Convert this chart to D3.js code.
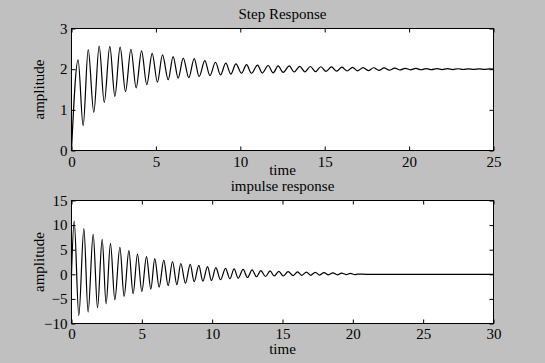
<!DOCTYPE html>
<html>
<head>
<meta charset="utf-8">
<script src="https://cdn.jsdelivr.net/npm/d3@7"></script>
<style>
  html, body { margin: 0; padding: 0; background: #c0c0c0; }
  svg { display: block; }
  text { font-family: "Liberation Serif", "Times New Roman", serif; fill: #000; }
</style>
</head>
<body>
<svg id="chart" width="545" height="363"></svg>
<script>
// ---- Data (local extrema of each response) ----
const stepTimes = [0, 0.39, 0.69, 0.99, 1.32, 1.64, 1.94, 2.27, 2.57, 2.88, 3.2, 3.52, 3.83, 4.15, 4.46, 4.78, 5.09, 5.39, 5.73, 6.02, 6.32, 6.62, 6.95, 7.27, 7.56, 7.9, 8.2, 8.53, 8.83, 9.14, 9.44, 9.74, 10.07, 10.37, 10.66, 11.02, 11.3, 11.65, 11.95, 12.24, 12.54, 12.9, 13.19, 13.52, 13.83, 14.15, 14.46, 14.77, 15.08, 15.4, 15.71, 16.02, 16.33, 16.65, 16.96, 17.27, 17.58, 17.9, 18.21, 18.52, 18.83, 19.15, 19.46, 19.77, 20.08, 20.4, 20.71, 21.02, 21.33, 21.65, 21.96, 22.27, 22.58, 22.9, 23.21, 23.52, 23.83, 24.15, 24.46, 24.77, 25];
const stepValues = [0, 2.23, 0.61, 2.48, 0.94, 2.57, 1.18, 2.56, 1.33, 2.54, 1.45, 2.49, 1.54, 2.45, 1.62, 2.39, 1.68, 2.35, 1.74, 2.31, 1.78, 2.27, 1.79, 2.26, 1.82, 2.21, 1.84, 2.17, 1.86, 2.15, 1.88, 2.13, 1.9, 2.11, 1.9, 2.1, 1.905, 2.09, 1.91, 2.08, 1.92, 2.08, 1.93, 2.07, 1.935, 2.065, 1.94, 2.06, 1.945, 2.055, 1.95, 2.05, 1.955, 2.045, 1.96, 2.04, 1.965, 2.035, 1.97, 2.03, 1.975, 2.025, 1.98, 2.02, 1.985, 2.018, 1.986, 2.015, 1.988, 2.013, 1.99, 2.012, 1.991, 2.01, 1.992, 2.009, 1.993, 2.008, 1.994, 2.007, 2.0];

const impulseTimes = [0, 0.19, 0.52, 0.88, 1.18, 1.54, 1.85, 2.18, 2.46, 2.77, 3.08, 3.44, 3.74, 4.08, 4.38, 4.69, 5.0, 5.33, 5.64, 5.92, 6.23, 6.56, 6.87, 7.18, 7.49, 7.77, 8.1, 8.44, 8.72, 9.05, 9.34, 9.67, 9.95, 10.26, 10.59, 10.95, 11.26, 11.56, 11.85, 12.2, 12.51, 12.84, 13.15, 13.46, 13.79, 14.12, 14.41, 14.74, 15.05, 15.4, 15.76, 16.07, 16.38, 16.7, 17.0, 17.33, 17.64, 17.95, 18.27, 18.58, 18.9, 19.2, 19.52, 19.83, 20.15, 20.35, 21, 30];
const impulseValues = [0, 10.8, -8.4, 9.3, -7.7, 8.1, -6.8, 7.1, -6.0, 6.3, -5.2, 5.5, -4.5, 4.8, -3.95, 4.1, -3.5, 3.6, -3.0, 3.2, -2.6, 2.9, -2.3, 2.6, -2.1, 2.2, -1.8, 2.0, -1.5, 1.8, -1.4, 1.55, -1.25, 1.35, -1.1, 1.2, -0.9, 1.1, -0.8, 1.0, -0.65, 0.9, -0.5, 0.75, -0.45, 0.7, -0.35, 0.6, -0.35, 0.55, -0.25, 0.5, -0.2, 0.45, -0.2, 0.4, -0.15, 0.35, -0.12, 0.3, -0.1, 0.25, -0.06, 0.2, -0.05, 0.05, 0, 0];

const stepXTicks = [0, 5, 10, 15, 20, 25];
const stepYTicks = [0, 1, 2, 3];
const impulseXTicks = [0, 5, 10, 15, 20, 25, 30];
const impulseYTicks = [-10, -5, 0, 5, 10, 15];

const svg = d3.select("#chart");
const FONT = 15;

function panel(cfg) {
  const { left, right, top, bottom, xDomain, yDomain, xTicks, yTicks, times, values, title, titleY, xlabelY, xPad } = cfg;
  const x = d3.scaleLinear().domain(xDomain).range([left, right]);
  const y = d3.scaleLinear().domain(yDomain).range([bottom, top]);
  const g = svg.append("g");

  g.append("rect").attr("x", left).attr("y", top)
    .attr("width", right - left).attr("height", bottom - top)
    .attr("fill", "#fff");

  const data = times.map((t, i) => [t, values[i]]);
  const line = d3.line().x(d => x(d[0])).y(d => y(d[1])).curve(d3.curveMonotoneX);
  g.append("path").datum(data).attr("d", line)
    .attr("fill", "none").attr("stroke", "#000").attr("stroke-width", 1.2);

  const fmt = d3.format("");
  const axB = g.append("g").attr("transform", `translate(0,${bottom})`)
    .call(d3.axisBottom(x).tickValues(xTicks).tickSize(-4).tickPadding(xPad).tickFormat(fmt));
  const axT = g.append("g").attr("transform", `translate(0,${top})`)
    .call(d3.axisTop(x).tickValues(xTicks).tickSize(-4).tickFormat(""));
  const axL = g.append("g").attr("transform", `translate(${left},0)`)
    .call(d3.axisLeft(y).tickValues(yTicks).tickSize(-4).tickPadding(4).tickFormat(fmt));
  const axR = g.append("g").attr("transform", `translate(${right},0)`)
    .call(d3.axisRight(y).tickValues(yTicks).tickSize(-4).tickFormat(""));
  [axB, axT, axL, axR].forEach(a => {
    a.select(".domain").remove();
    a.selectAll("line").attr("stroke", "#000");
    a.selectAll("text").attr("font-size", FONT).attr("font-family", '"Liberation Serif", serif').attr("fill", "#000");
  });

  g.append("rect").attr("x", left).attr("y", top)
    .attr("width", right - left).attr("height", bottom - top)
    .attr("fill", "none").attr("stroke", "#000").attr("stroke-width", 1);

  g.append("text").attr("x", (left + right) / 2).attr("y", titleY)
    .attr("text-anchor", "middle").attr("font-size", FONT).text(title);
  g.append("text").attr("x", (left + right) / 2).attr("y", xlabelY)
    .attr("text-anchor", "middle").attr("font-size", FONT).text("time");
  g.append("text")
    .attr("transform", `translate(44,${(top + bottom) / 2}) rotate(-90)`)
    .attr("text-anchor", "middle").attr("font-size", FONT).text("amplitude");
}

panel({
  left: 71.5, right: 493.5, top: 28.5, bottom: 150.5,
  xDomain: [0, 25], yDomain: [0, 3], xTicks: stepXTicks, yTicks: stepYTicks,
  times: stepTimes, values: stepValues,
  title: "Step Response", titleY: 19, xlabelY: 175, xPad: 6
});
panel({
  left: 71.5, right: 493.5, top: 200.5, bottom: 323.5,
  xDomain: [0, 30], yDomain: [-10, 15], xTicks: impulseXTicks, yTicks: impulseYTicks,
  times: impulseTimes, values: impulseValues,
  title: "impulse response", titleY: 191, xlabelY: 354, xPad: 5
});
</script>
</body>
</html>
